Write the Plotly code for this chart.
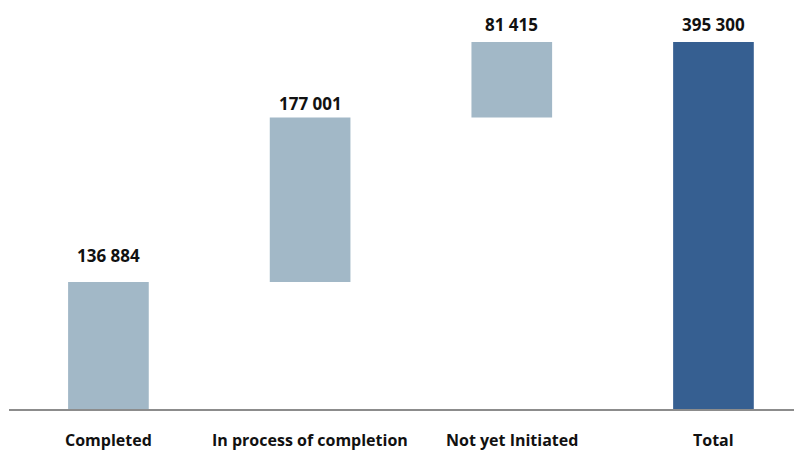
import plotly.graph_objects as go

categories = ["Completed", "In process of completion", "Not yet Initiated", "Total"]
values = [136884, 177001, 81415, 395300]
value_labels = ["136 884", "177 001", "81 415", "395 300"]
is_total = [False, False, False, True]

# waterfall bases
bases = []
running = 0
for v, t in zip(values, is_total):
    if t:
        bases.append(0)
    else:
        bases.append(running)
        running += v

light = "#A2B8C7"
dark = "#365F91"
colors = [dark if t else light for t in is_total]

# pixel offsets of the value labels above the bar tops (layout only)
label_shift = [26, 14, 18, 18]

fig = go.Figure()
fig.add_trace(go.Bar(
    x=list(range(len(categories))),
    y=values,
    base=bases,
    marker=dict(color=colors, line=dict(width=0)),
    width=0.40,
    hoverinfo="skip",
))

font_family = "'Open Sans', Lato, sans-serif"
annotations = []
for i, (v, b, lab) in enumerate(zip(values, bases, value_labels)):
    annotations.append(dict(
        x=i, y=b + v, xref="x", yref="y", text=f"<b>{lab}</b>",
        showarrow=False, yshift=label_shift[i],
        font=dict(size=17, color="#111111", family=font_family),
    ))
for i, c in enumerate(categories):
    annotations.append(dict(
        x=i, y=0, xref="x", yref="y", text=f"<b>{c}</b>",
        showarrow=False, yshift=-31, font=dict(size=16, color="#111111", family=font_family),
    ))

fig.update_layout(
    width=794, height=442,
    margin=dict(l=1, r=0, t=12, b=41),
    paper_bgcolor="white", plot_bgcolor="white",
    showlegend=False,
    annotations=annotations,
    xaxis=dict(range=[-0.493, 3.439], showticklabels=False, showgrid=False, zeroline=False,
               showline=True, linecolor="#8C8C8C", linewidth=2),
    yaxis=dict(range=[0, 419000], visible=False, showgrid=False, zeroline=False),
)

fig.write_html("out.html")
